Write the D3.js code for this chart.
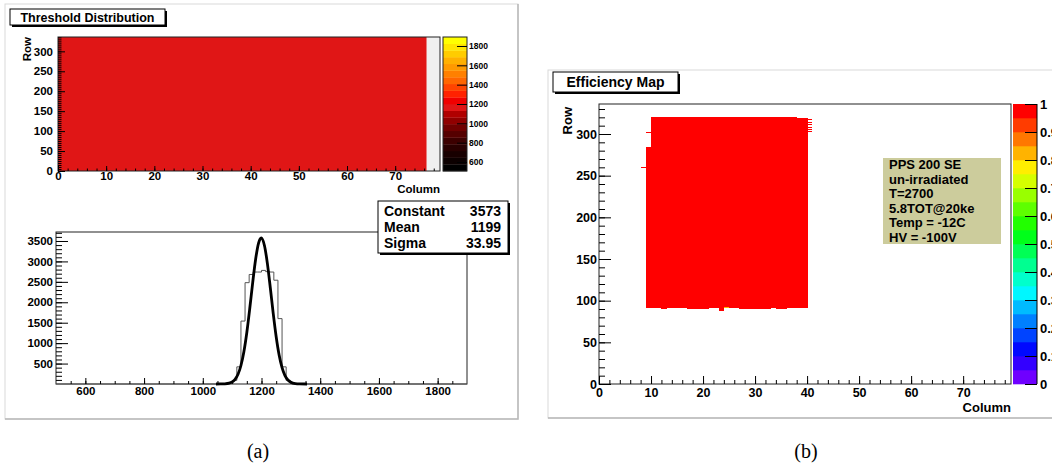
<!DOCTYPE html>
<html>
<head>
<meta charset="utf-8">
<script src="https://cdn.jsdelivr.net/npm/d3@7"></script>
<style>
	body { margin: 0; background: #fff; }
	svg text { font-family: "Liberation Sans", Arial, sans-serif; font-weight: bold; fill: #000; }
</style>
</head>
<body>
<svg id="chart" width="1052" height="469"></svg>
<script>
'use strict';

// ---------- (a) top: threshold map ----------
var mapColumnRange = [0, 76.5];      // columns that hold data
var mapRows = 336;
var meanThreshold = 1199;
var mapXTicks = [0, 10, 20, 30, 40, 50, 60, 70];
var mapYTicks = [0, 50, 100, 150, 200, 250, 300];
var thresholdRange = [507, 1893];
var thresholdTicks = [600, 800, 1000, 1200, 1400, 1600, 1800];
// 20 contour colours of the colour bar, bottom to top
var thresholdPalette = ['#000000', '#0c0000', '#180000', '#280000', '#3c0000', '#550000', '#700000',
	'#900000', '#b00000', '#e01616', '#f00000', '#ff2200', '#ff4400', '#ff6600', '#ff8000',
	'#ff9900', '#ffb000', '#ffcc00', '#ffe600', '#ffff00'];

// ---------- (a) bottom: threshold histogram ----------
var histBinWidth = 14;
var histBinLow = [1060, 1074, 1088, 1102, 1116, 1130, 1144, 1158, 1172, 1186,
	1200, 1214, 1228, 1242, 1256, 1270, 1284, 1298, 1312, 1326];
var histCounts = [0, 5, 20, 90, 420, 1540, 2480, 2680, 2740, 2740,
	2780, 2750, 2740, 2540, 1600, 420, 90, 20, 5, 0];
var fitX = [1045, 1060, 1075, 1090, 1100, 1110, 1120, 1130, 1140, 1150, 1160, 1170, 1180, 1190, 1199,
	1210, 1220, 1230, 1240, 1250, 1260, 1270, 1280, 1290, 1300, 1315, 1330, 1355];
var fitY = [0, 1, 5, 21, 51, 115, 238, 453, 789, 1261, 1847, 2481, 3054, 3450, 3573,
	3390, 2952, 2355, 1723, 1157, 711, 401, 207, 99, 43, 10, 2, 0];
var histXTicks = [600, 800, 1000, 1200, 1400, 1600, 1800];
var histYTicks = [500, 1000, 1500, 2000, 2500, 3000, 3500];
var statNames = ['Constant', 'Mean', 'Sigma'];
var statValues = ['3573', '1199', '33.95'];

// ---------- (b) efficiency map ----------
var effCol = [9, 10, 11, 12, 13, 14, 15, 16, 17, 18, 19, 20, 21, 22, 23, 24,
	25, 26, 27, 28, 29, 30, 31, 32, 33, 34, 35, 36, 37, 38, 39];
var effRowLow = [91, 91, 91, 90, 91, 91, 91, 91, 90, 90, 90, 90, 91, 91, 88, 91,
	91, 91, 90, 90, 90, 90, 90, 90, 91, 90, 90, 91, 91, 91, 91];
var effRowHigh = [284, 320, 320, 320, 320, 320, 320, 320, 319, 319, 319, 319, 319, 319, 319, 319,
	319, 319, 319, 319, 319, 319, 319, 319, 319, 319, 319, 319, 319, 318, 318];
var effValue = 1;
var effStrayCol = [9, 8, 40, 40, 40, 40, 40, 40, 24];
var effStrayRow = [302, 259, 303, 305, 308, 311, 314, 317, 91];
var effStrayValue = [1, 1, 1, 1, 1, 1, 1, 1, 0.8];
var effXTicks = [0, 10, 20, 30, 40, 50, 60, 70];
var effYTicks = [0, 50, 100, 150, 200, 250, 300];
var effTicks = [0, 0.1, 0.2, 0.3, 0.4, 0.5, 0.6, 0.7, 0.8, 0.9, 1];
var infoLines = ['PPS 200 SE', 'un-irradiated', 'T=2700', '5.8TOT@20ke', 'Temp = -12C', 'HV = -100V'];

var svg = d3.select('#chart');

// ROOT style axis: ticks point into the frame
var rootAxis = function(parent, maker, scale, majors, minors, majorLen, minorLen, fontSize, pad, fmt) {
	var minor = parent.append('g')
		.call(maker(scale).tickValues(minors).tickSizeInner(-minorLen).tickSizeOuter(0).tickFormat(''));
	minor.select('.domain').remove();
	var major = parent.append('g')
		.call(maker(scale).tickValues(majors).tickSizeInner(-majorLen).tickSizeOuter(0).tickPadding(pad)
			.tickFormat(fmt || d3.format('d')));
	major.select('.domain').remove();
	major.attr('font-family', null).attr('font-size', fontSize);
	parent.selectAll('line').attr('stroke', '#000');
	return major;
}

var titleBox = function(x, y, w, h, label, size) {
	svg.append('rect').attr('x', x + 2).attr('y', y + 2).attr('width', w).attr('height', h).attr('fill', '#000');
	svg.append('rect').attr('x', x).attr('y', y).attr('width', w).attr('height', h)
		.attr('fill', '#fff').attr('stroke', '#000');
	svg.append('text').attr('x', x + w / 2).attr('y', y + h / 2).attr('dy', '0.36em')
		.attr('text-anchor', 'middle').style('font-size', size + 'px').text(label);
}

var canvasBox = function(x, y, w, h) {
	svg.append('rect').attr('x', x).attr('y', y).attr('width', w).attr('height', h)
		.attr('fill', '#fff').attr('stroke', '#d9d9d9');
	svg.append('path').attr('d', 'M' + (x + w) + ',' + y + 'V' + (y + h) + 'H' + x)
		.attr('fill', 'none').attr('stroke', '#b8b8b8').attr('stroke-width', 1.5);
}

// ================= panel (a) =================
canvasBox(5, 4, 513, 415);
titleBox(10, 9, 155, 16, 'Threshold Distribution', 12.5);

// --- threshold map
var m = {left: 58, right: 440, top: 37, bottom: 171};
var mx = d3.scaleLinear().domain([0, 79.3]).range([m.left, m.right]);
var my = d3.scaleLinear().domain([0, mapRows]).range([m.bottom, m.top]);
var tcolor = d3.scaleQuantize().domain(thresholdRange).range(thresholdPalette);

svg.append('rect').attr('x', m.left).attr('y', m.top).attr('width', m.right - m.left).attr('height', m.bottom - m.top)
	.attr('fill', '#f0f0f0');
svg.append('rect')
	.attr('x', mx(mapColumnRange[0])).attr('width', mx(mapColumnRange[1]) - mx(mapColumnRange[0]))
	.attr('y', my(mapRows)).attr('height', my(0) - my(mapRows))
	.attr('fill', tcolor(meanThreshold));
svg.append('rect').attr('x', m.left).attr('y', m.top).attr('width', m.right - m.left).attr('height', m.bottom - m.top)
	.attr('fill', 'none').attr('stroke', '#222');

rootAxis(svg.append('g').attr('transform', 'translate(0,' + m.bottom + ')'), d3.axisBottom, mx,
	mapXTicks, d3.range(0, 80, 2), 5, 2.5, 11.5, 1);
rootAxis(svg.append('g').attr('transform', 'translate(' + m.left + ',0)'), d3.axisLeft, my,
	mapYTicks, d3.range(0, 337, 5), 7, 3.5, 11.5, 5);
svg.append('text').attr('transform', 'translate(31,' + m.top + ') rotate(-90)')
	.attr('text-anchor', 'end').style('font-size', '11.5px').text('Row');
svg.append('text').attr('x', m.right).attr('y', 193).attr('text-anchor', 'end')
	.style('font-size', '11.5px').text('Column');

// colour bar (a)
var cb = {left: 443, right: 467};
var cby = d3.scaleLinear().domain(thresholdRange).range([m.bottom, m.top]);
var tstep = (thresholdRange[1] - thresholdRange[0]) / thresholdPalette.length;
svg.append('g').selectAll('rect')
	.data(thresholdPalette)
	.enter().append('rect')
	.attr('x', cb.left).attr('width', cb.right - cb.left)
	.attr('y', function(d, i) { return cby(thresholdRange[0] + (i + 1) * tstep); })
	.attr('height', function(d, i) { return cby(thresholdRange[0] + i * tstep) - cby(thresholdRange[0] + (i + 1) * tstep) + 0.3; })
	.attr('fill', function(d) { return d; });
svg.append('rect').attr('x', cb.left).attr('y', m.top).attr('width', cb.right - cb.left).attr('height', m.bottom - m.top)
	.attr('fill', 'none').attr('stroke', '#222');
rootAxis(svg.append('g').attr('transform', 'translate(' + cb.right + ',0)'), d3.axisRight, cby,
	thresholdTicks, [], 10, 0, 8.5, 2);

// --- threshold histogram
var h = {left: 56, right: 467, top: 232, bottom: 384};
var hx = d3.scaleLinear().domain([500, 1900]).range([h.left, h.right]);
var hy = d3.scaleLinear().domain([0, 3720]).range([h.bottom, h.top]);

svg.append('rect').attr('x', h.left).attr('y', h.top).attr('width', h.right - h.left).attr('height', h.bottom - h.top)
	.attr('fill', '#fff').attr('stroke', '#222');

var steps = [{x: 500, y: 0}];
histBinLow.forEach(function(lo, i) { steps.push({x: lo, y: histCounts[i]}); });
steps.push({x: histBinLow[histBinLow.length - 1] + histBinWidth, y: 0});
steps.push({x: 1900, y: 0});
svg.append('path')
	.attr('d', d3.line().curve(d3.curveStepAfter)
		.x(function(d) { return hx(d.x); })
		.y(function(d) { return hy(d.y); })(steps))
	.attr('fill', 'none').attr('stroke', '#555').attr('stroke-width', 1);

var fit = fitX.map(function(x, i) { return {x: x, y: fitY[i]}; });
svg.append('path')
	.attr('d', d3.line().curve(d3.curveMonotoneX)
		.x(function(d) { return hx(d.x); })
		.y(function(d) { return hy(d.y); })(fit))
	.attr('fill', 'none').attr('stroke', '#000').attr('stroke-width', 2.8).attr('stroke-linejoin', 'round');

rootAxis(svg.append('g').attr('transform', 'translate(0,' + h.bottom + ')'), d3.axisBottom, hx,
	histXTicks, d3.range(550, 1900, 50), 6, 3, 11.5, 3);
rootAxis(svg.append('g').attr('transform', 'translate(' + h.left + ',0)'), d3.axisLeft, hy,
	histYTicks, d3.range(100, 3720, 100), 12, 6, 11.5, 3);

// stats box
svg.append('rect').attr('x', 380).attr('y', 203).attr('width', 130).attr('height', 52).attr('fill', '#000');
svg.append('rect').attr('x', 378).attr('y', 201).attr('width', 130).attr('height', 52)
	.attr('fill', '#fff').attr('stroke', '#000');
statNames.forEach(function(name, i) {
	svg.append('text').attr('x', 384).attr('y', 216 + i * 16).style('font-size', '14px').text(name);
	svg.append('text').attr('x', 501).attr('y', 216 + i * 16).attr('text-anchor', 'end')
		.style('font-size', '14px').text(statValues[i]);
});

// ================= panel (b) =================
canvasBox(548, 70, 520, 348);
titleBox(553, 72, 125, 20, 'Efficiency Map', 14);

var e = {left: 599, right: 1011, top: 104, bottom: 384};
var ex = d3.scaleLinear().domain([0, 79.2]).range([e.left, e.right]);
var ey = d3.scaleLinear().domain([0, 336]).range([e.bottom, e.top]);
var effPalette = d3.range(20).map(function(j) { return d3.hsl(280 - 280 * (j + 1) / 20, 1, 0.5).formatHex(); });
var ecolor = function(v) { return effPalette[Math.min(19, Math.floor(v * 20))]; };

svg.append('rect').attr('x', e.left).attr('y', e.top).attr('width', e.right - e.left).attr('height', e.bottom - e.top)
	.attr('fill', '#fff');

var cells = svg.append('g').attr('shape-rendering', 'crispEdges');
cells.selectAll('rect.col')
	.data(effCol)
	.enter().append('rect')
	.attr('class', 'col')
	.attr('x', function(c) { return ex(c); })
	.attr('width', function(c) { return ex(c + 1) - ex(c) + 0.5; })
	.attr('y', function(c, i) { return ey(effRowHigh[i] + 1); })
	.attr('height', function(c, i) { return ey(effRowLow[i]) - ey(effRowHigh[i] + 1); })
	.attr('fill', ecolor(effValue));
cells.selectAll('rect.stray')
	.data(effStrayCol)
	.enter().append('rect')
	.attr('class', 'stray')
	.attr('x', function(c) { return ex(c); })
	.attr('width', function(c) { return ex(c + 1) - ex(c); })
	.attr('y', function(c, i) { return ey(effStrayRow[i] + 1); })
	.attr('height', function(c, i) { return Math.max(1, ey(effStrayRow[i]) - ey(effStrayRow[i] + 1)); })
	.attr('fill', function(c, i) { return ecolor(effStrayValue[i]); });

svg.append('rect').attr('x', e.left).attr('y', e.top).attr('width', e.right - e.left).attr('height', e.bottom - e.top)
	.attr('fill', 'none').attr('stroke', '#222');

rootAxis(svg.append('g').attr('transform', 'translate(0,' + e.bottom + ')'), d3.axisBottom, ex,
	effXTicks, d3.range(0, 80, 2), 8, 4, 12.5, 4);
rootAxis(svg.append('g').attr('transform', 'translate(' + e.left + ',0)'), d3.axisLeft, ey,
	effYTicks, d3.range(0, 337, 10), 12, 6, 12.5, 2);
svg.append('text').attr('transform', 'translate(572,' + 107 + ') rotate(-90)')
	.attr('text-anchor', 'end').style('font-size', '13px').text('Row');
svg.append('text').attr('x', e.right).attr('y', 412).attr('text-anchor', 'end')
	.style('font-size', '13px').text('Column');

// info box
svg.append('rect').attr('x', 883).attr('y', 158).attr('width', 118).attr('height', 86).attr('fill', '#cccc9c');
infoLines.forEach(function(line, i) {
	svg.append('text').attr('x', 889).attr('y', 169 + i * 14.6).style('font-size', '13px').text(line);
});

// colour bar (b)
var ecb = {left: 1013, right: 1037};
var ecby = d3.scaleLinear().domain([0, 1]).range([e.bottom, e.top]);
svg.append('g').selectAll('rect')
	.data(effPalette)
	.enter().append('rect')
	.attr('x', ecb.left).attr('width', ecb.right - ecb.left)
	.attr('y', function(d, i) { return ecby((i + 1) / 20); })
	.attr('height', function(d, i) { return ecby(i / 20) - ecby((i + 1) / 20) + 0.3; })
	.attr('fill', function(d) { return d; });
svg.append('line').attr('x1', ecb.right).attr('x2', ecb.right).attr('y1', e.top).attr('y2', e.bottom)
	.attr('stroke', '#000');
rootAxis(svg.append('g').attr('transform', 'translate(' + ecb.right + ',0)'), d3.axisRight, ecby,
	effTicks, [], 12, 0, 13, 3, function(d) { return String(+d.toFixed(1)); });

// captions
svg.append('text').attr('x', 258).attr('y', 458).attr('text-anchor', 'middle')
	.style('font-family', '"Liberation Serif", "Times New Roman", serif').style('font-weight', 'normal')
	.style('font-size', '20px').text('(a)');
svg.append('text').attr('x', 806).attr('y', 458).attr('text-anchor', 'middle')
	.style('font-family', '"Liberation Serif", "Times New Roman", serif').style('font-weight', 'normal')
	.style('font-size', '20px').text('(b)');
</script>
</body>
</html>
